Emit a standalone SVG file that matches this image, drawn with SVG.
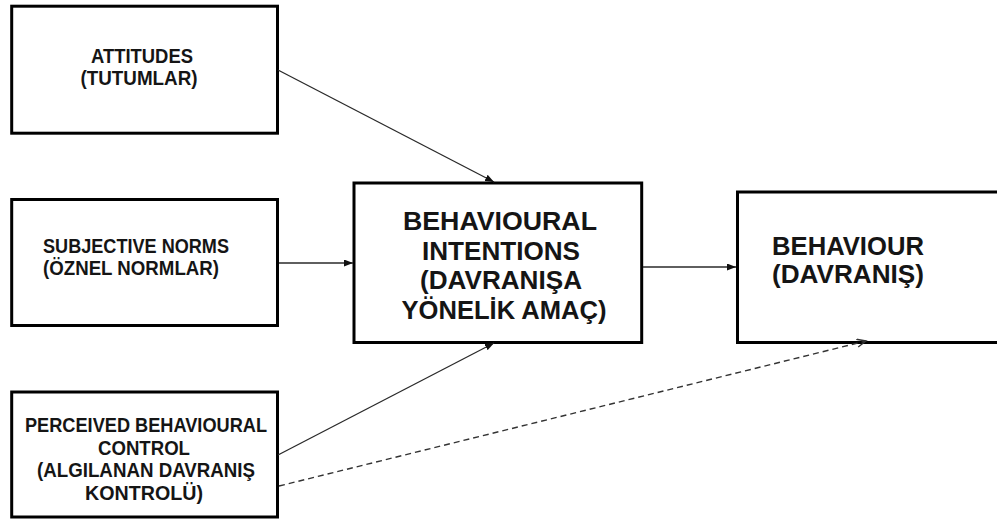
<svg xmlns="http://www.w3.org/2000/svg" width="997" height="519" viewBox="0 0 997 519">
  <style>
    .box { fill: #ffffff; stroke: #000000; stroke-width: 3; }
    .lbl { font-family: "Liberation Sans", Arial, sans-serif; font-weight: bold; fill: #151515; }
    .sm { font-size: 20px; }
    .lg { font-size: 25px; }
    .mid { text-anchor: middle; }
    .edge { fill: none; stroke: #2a2a2a; stroke-width: 1.3; }
    .dash { fill: none; stroke: #333333; stroke-width: 1.4; stroke-dasharray: 6 4; }
  </style>
  <defs>
    <marker id="head" markerUnits="userSpaceOnUse" markerWidth="10" markerHeight="8" refX="9" refY="3.5" orient="auto">
      <path d="M0,0 L9,3.5 L0,7 z" fill="#111111"/>
    </marker>
    <marker id="openHead" markerUnits="userSpaceOnUse" markerWidth="12" markerHeight="10" refX="10" refY="4.5" orient="auto">
      <path d="M1,0.5 L10,4.5 L1,8.5" fill="none" stroke="#333333" stroke-width="1.4"/>
    </marker>
  </defs>

  <rect width="997" height="519" fill="#ffffff"/>

  <!-- attitudes -->
  <g id="attitudes">
    <rect class="box" x="11.7" y="6.2" width="265.8" height="127"/>
    <text class="lbl sm mid" x="142" y="63" textLength="102" lengthAdjust="spacingAndGlyphs">ATTITUDES</text>
    <text class="lbl sm mid" x="139" y="85" textLength="117" lengthAdjust="spacingAndGlyphs">(TUTUMLAR)</text>
  </g>

  <!-- subjective norms -->
  <g id="subjective-norms">
    <rect class="box" x="11.7" y="199.5" width="265.8" height="126"/>
    <text class="lbl sm" x="43" y="253" textLength="186" lengthAdjust="spacingAndGlyphs">SUBJECTIVE NORMS</text>
    <text class="lbl sm" x="43" y="275" textLength="176" lengthAdjust="spacingAndGlyphs">(ÖZNEL NORMLAR)</text>
  </g>

  <!-- perceived behavioural control -->
  <g id="perceived-control">
    <rect class="box" x="11.7" y="392" width="265.8" height="125"/>
    <text class="lbl sm mid" x="146" y="432" textLength="242" lengthAdjust="spacingAndGlyphs">PERCEIVED BEHAVIOURAL</text>
    <text class="lbl sm mid" x="144" y="455" textLength="92" lengthAdjust="spacingAndGlyphs">CONTROL</text>
    <text class="lbl sm mid" x="146" y="477" textLength="218" lengthAdjust="spacingAndGlyphs">(ALGILANAN  DAVRANIŞ</text>
    <text class="lbl sm mid" x="144" y="500" textLength="118" lengthAdjust="spacingAndGlyphs">KONTROLÜ)</text>
  </g>

  <!-- behavioural intentions -->
  <g id="intentions">
    <rect class="box" x="354" y="183" width="287.7" height="159.5"/>
    <text class="lbl lg mid" x="500" y="230" textLength="194" lengthAdjust="spacingAndGlyphs">BEHAVIOURAL</text>
    <text class="lbl lg mid" x="501" y="259.5" textLength="158" lengthAdjust="spacingAndGlyphs">INTENTIONS</text>
    <text class="lbl lg mid" x="501" y="289" textLength="162" lengthAdjust="spacingAndGlyphs">(DAVRANIŞA</text>
    <text class="lbl lg mid" x="504" y="318.5" textLength="205" lengthAdjust="spacingAndGlyphs">YÖNELİK AMAÇ)</text>
  </g>

  <!-- behaviour (right border runs off the page) -->
  <g id="behaviour">
    <rect class="box" x="737.5" y="192" width="265" height="150.5"/>
    <text class="lbl lg" x="772" y="255" textLength="152" lengthAdjust="spacingAndGlyphs">BEHAVIOUR</text>
    <text class="lbl lg" x="772" y="283" textLength="152" lengthAdjust="spacingAndGlyphs">(DAVRANIŞ)</text>
  </g>

  <!-- connectors, drawn last so arrowheads sit on top of box borders -->
  <g id="connectors">
    <line class="edge" x1="278" y1="70" x2="494" y2="182" marker-end="url(#head)"/>
    <line class="edge" x1="279" y1="263" x2="353" y2="263" marker-end="url(#head)"/>
    <line class="edge" x1="278" y1="455" x2="494" y2="343" marker-end="url(#head)"/>
    <line class="edge" x1="643" y1="267" x2="736" y2="267" marker-end="url(#head)"/>
    <line class="dash" x1="279" y1="486" x2="866" y2="341" marker-end="url(#openHead)"/>
  </g>
</svg>
